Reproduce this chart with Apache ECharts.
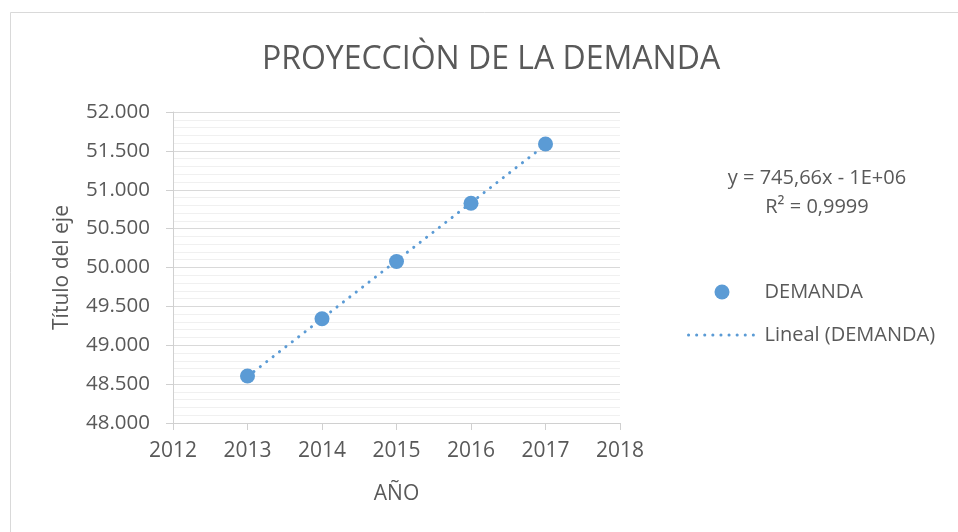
<!DOCTYPE html>
<html>
<head>
<meta charset="utf-8">
<script src="https://cdn.jsdelivr.net/npm/echarts@6/dist/echarts.min.js"></script>
<style>
  html, body { margin: 0; padding: 0; background: #fff; }
  #chart { width: 958px; height: 532px; }
</style>
</head>
<body>
<div id="chart"></div>
<script>
// Annual demand and its linear projection
const chartTitle = 'PROYECCIÒN DE LA DEMANDA';
const years = [2013, 2014, 2015, 2016, 2017];
const demanda = [48605, 49340, 50078, 50826, 51588];
const seriesName = 'DEMANDA';
const trendName = 'Lineal (DEMANDA)';
const equationLines = ['y = 745,66x - 1E+06', 'R² = 0,9999'];
const xAxisTitle = 'AÑO';
const yAxisTitle = 'Título del eje';

const FONT = '"Open Sans", "Noto Sans", sans-serif';
const TEXT = '#595959';
const BLUE = '#5b9bd5';
const DOTTED = { color: BLUE, width: 3, type: [0.1, 8], cap: 'round' };

// Least-squares fit used for the trendline
function linearFit(xs, ys) {
  const n = xs.length;
  const mx = xs.reduce((a, b) => a + b, 0) / n;
  const my = ys.reduce((a, b) => a + b, 0) / n;
  let sxy = 0, sxx = 0;
  for (let i = 0; i < n; i++) {
    sxy += (xs[i] - mx) * (ys[i] - my);
    sxx += (xs[i] - mx) * (xs[i] - mx);
  }
  const slope = sxy / sxx;
  return { slope, intercept: my - slope * mx };
}
const fit = linearFit(years, demanda);
const trendData = [years[0], years[years.length - 1]].map(x => [x, fit.intercept + fit.slope * x]);

const fmtThousands = v => String(Math.round(v)).replace(/\B(?=(\d{3})+(?!\d))/g, '.');

const chart = echarts.init(document.getElementById('chart'), null, { renderer: 'canvas' });
chart.setOption({
  backgroundColor: '#ffffff',
  animation: false,
  textStyle: { fontFamily: FONT, color: TEXT },
  title: {
    text: chartTitle,
    left: 491,
    top: 44,
    textAlign: 'center',
    padding: 0,
    textStyle: { fontFamily: FONT, fontSize: 32, fontWeight: 'normal', color: TEXT }
  },
  grid: { left: 173, right: 338, top: 112, bottom: 109, containLabel: false },
  xAxis: {
    type: 'value',
    min: 2012,
    max: 2018,
    interval: 1,
    name: xAxisTitle,
    nameLocation: 'middle',
    nameGap: 61,
    nameTextStyle: { fontFamily: FONT, fontSize: 21, color: TEXT },
    axisLine: { show: true, lineStyle: { color: '#d0d0d0', width: 1 } },
    axisTick: { show: true, inside: false, length: 7, lineStyle: { color: '#d0d0d0' } },
    axisLabel: { margin: 18, fontFamily: FONT, fontSize: 21, color: TEXT, formatter: v => String(v), showMinLabel: true, showMaxLabel: true },
    splitLine: { show: false }
  },
  yAxis: {
    type: 'value',
    min: 48000,
    max: 52000,
    interval: 500,
    name: yAxisTitle,
    nameLocation: 'middle',
    nameGap: 100,
    nameTextStyle: { fontFamily: FONT, fontSize: 21, color: TEXT },
    axisLine: { show: true, lineStyle: { color: '#d0d0d0', width: 1 } },
    axisTick: { show: true, inside: false, length: 7, lineStyle: { color: '#d0d0d0' } },
    axisLabel: { margin: 23, fontFamily: FONT, fontSize: 20.5, color: TEXT, formatter: fmtThousands, showMinLabel: true, showMaxLabel: true },
    splitLine: { show: true, lineStyle: { color: '#d9d9d9', width: 1 } },
    minorTick: { show: false, splitNumber: 5 },
    minorSplitLine: { show: true, lineStyle: { color: '#f0f0f0', width: 1 } }
  },
  legend: {
    orient: 'vertical',
    left: 687,
    top: 282,
    padding: 0,
    itemWidth: 67,
    itemHeight: 15,
    itemGap: 23,
    selectedMode: false,
    textStyle: { fontFamily: FONT, fontSize: 20, color: TEXT, padding: [0, 0, 0, 4] },
    data: [
      { name: seriesName, icon: 'circle' },
      { name: trendName, itemStyle: { opacity: 0 }, lineStyle: DOTTED }
    ]
  },
  series: [
    {
      name: trendName,
      type: 'line',
      data: trendData,
      showSymbol: false,
      symbol: 'none',
      z: 2,
      lineStyle: DOTTED,
      itemStyle: { color: BLUE }
    },
    {
      name: seriesName,
      type: 'scatter',
      data: years.map((y, i) => [y, demanda[i]]),
      symbol: 'circle',
      symbolSize: 15,
      z: 3,
      itemStyle: { color: BLUE, opacity: 1 }
    }
  ],
  graphic: [
    {
      type: 'rect',
      silent: true,
      shape: { x: 10.5, y: 12.5, width: 1000, height: 600 },
      style: { fill: 'none', stroke: '#d9d9d9', lineWidth: 1 }
    },
    {
      type: 'text',
      x: 817,
      y: 164,
      silent: true,
      style: {
        text: equationLines.join('\n'),
        align: 'center',
        verticalAlign: 'top',
        fill: TEXT,
        font: '20px ' + FONT,
        lineHeight: 29
      }
    }
  ]
});
</script>
</body>
</html>
